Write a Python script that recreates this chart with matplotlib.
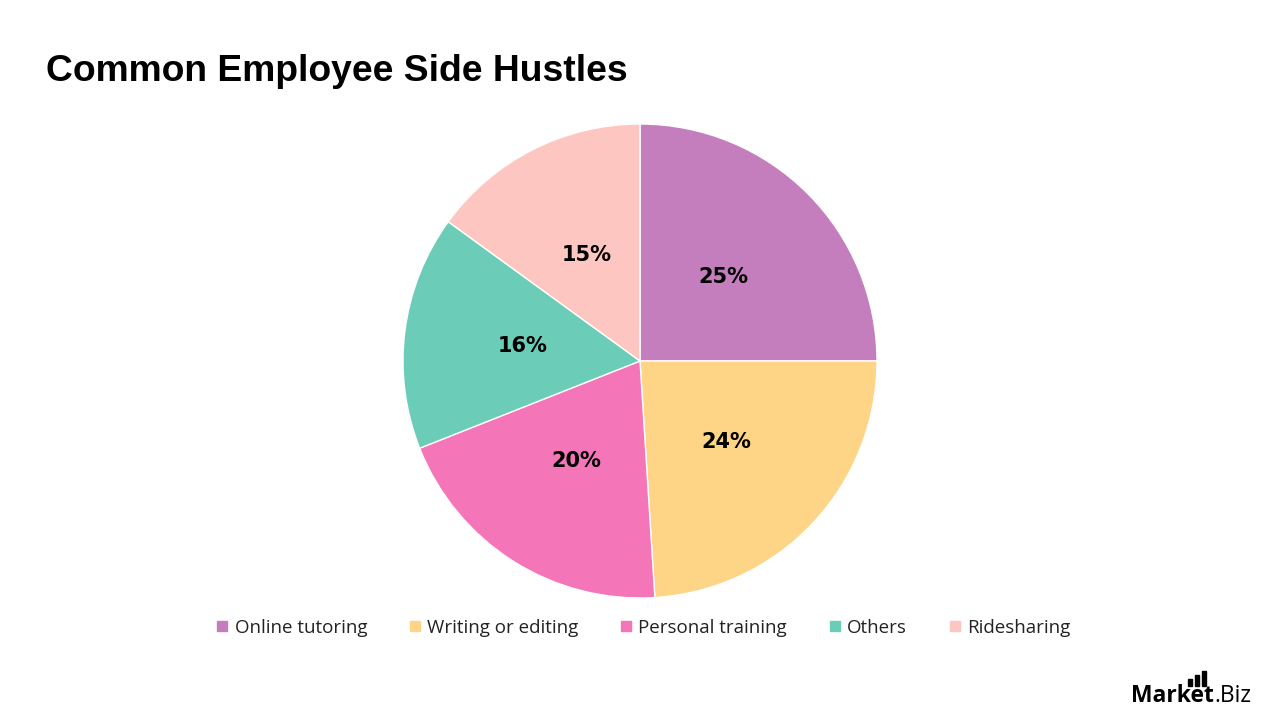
import matplotlib
matplotlib.use("Agg")
import matplotlib.pyplot as plt
from matplotlib.lines import Line2D
from matplotlib.patches import Rectangle

# ── data ──────────────────────────────────────────────────────────────────────
categories = ["Online tutoring", "Writing or editing", "Personal training",
              "Others", "Ridesharing"]
shares = [25, 24, 20, 16, 15]
colors = ["#C47EBD", "#FED486", "#F476B8", "#6BCDB8", "#FEC6C1"]

TITLE = "Common Employee Side Hustles"

# ── figure ────────────────────────────────────────────────────────────────────
W, H = 1280, 720
fig = plt.figure(figsize=(W / 100, H / 100), dpi=100)
fig.patch.set_facecolor("white")

cx, cy, r = 640, 361, 237
ax = fig.add_axes([(cx - r) / W, (H - cy - r) / H, 2 * r / W, 2 * r / H])
wedges, _, autotexts = ax.pie(
    shares, colors=colors, startangle=90, counterclock=False,
    autopct="%d%%", pctdistance=0.5, radius=1,
    wedgeprops=dict(edgecolor="white", linewidth=1.0),
    textprops=dict(fontsize=15, fontweight="bold", color="black",
                   family=["DejaVu Sans"]))
ax.set_xlim(-1, 1)
ax.set_ylim(-1, 1)
ax.set_aspect("equal")
ax.axis("off")

fig.text(46 / W, 1 - 81 / H, TITLE, fontsize=26.8, fontweight="bold",
         family=["Liberation Sans", "DejaVu Sans"], ha="left", va="baseline")

handles = [Line2D([0], [0], marker="s", linestyle="none", markersize=7,
                  markerfacecolor=c, markeredgecolor=c, label=lab)
           for lab, c in zip(categories, colors)]
fig.legend(handles=handles, loc="center", bbox_to_anchor=(643 / W, 1 - 628 / H),
           ncol=5, frameon=False, handlelength=0.7, handletextpad=0.3,
           columnspacing=2.2, prop=dict(family=["Open Sans", "DejaVu Sans"], size=13.5),
           labelcolor="#222222")

# ── logo ──────────────────────────────────────────────────────────────────────
t1 = fig.text(1131 / W, 1 - 702 / H, "Market", fontsize=16.5, fontweight="bold",
              family=["Open Sans", "DejaVu Sans"], ha="left", va="baseline")
fig.canvas.draw()
bb = t1.get_window_extent()
fig.text(bb.x1 / W, 1 - 702 / H, ".Biz", fontsize=16.5,
         family=["Open Sans", "DejaVu Sans"], ha="left", va="baseline")
for i, hgt in enumerate([7, 11, 15]):
    x0 = 1188 + i * 7
    fig.patches.append(Rectangle((x0 / W, 1 - 686 / H), 4 / W, hgt / H,
                                 transform=fig.transFigure, color="black"))

fig.savefig("out.png", dpi=100)
